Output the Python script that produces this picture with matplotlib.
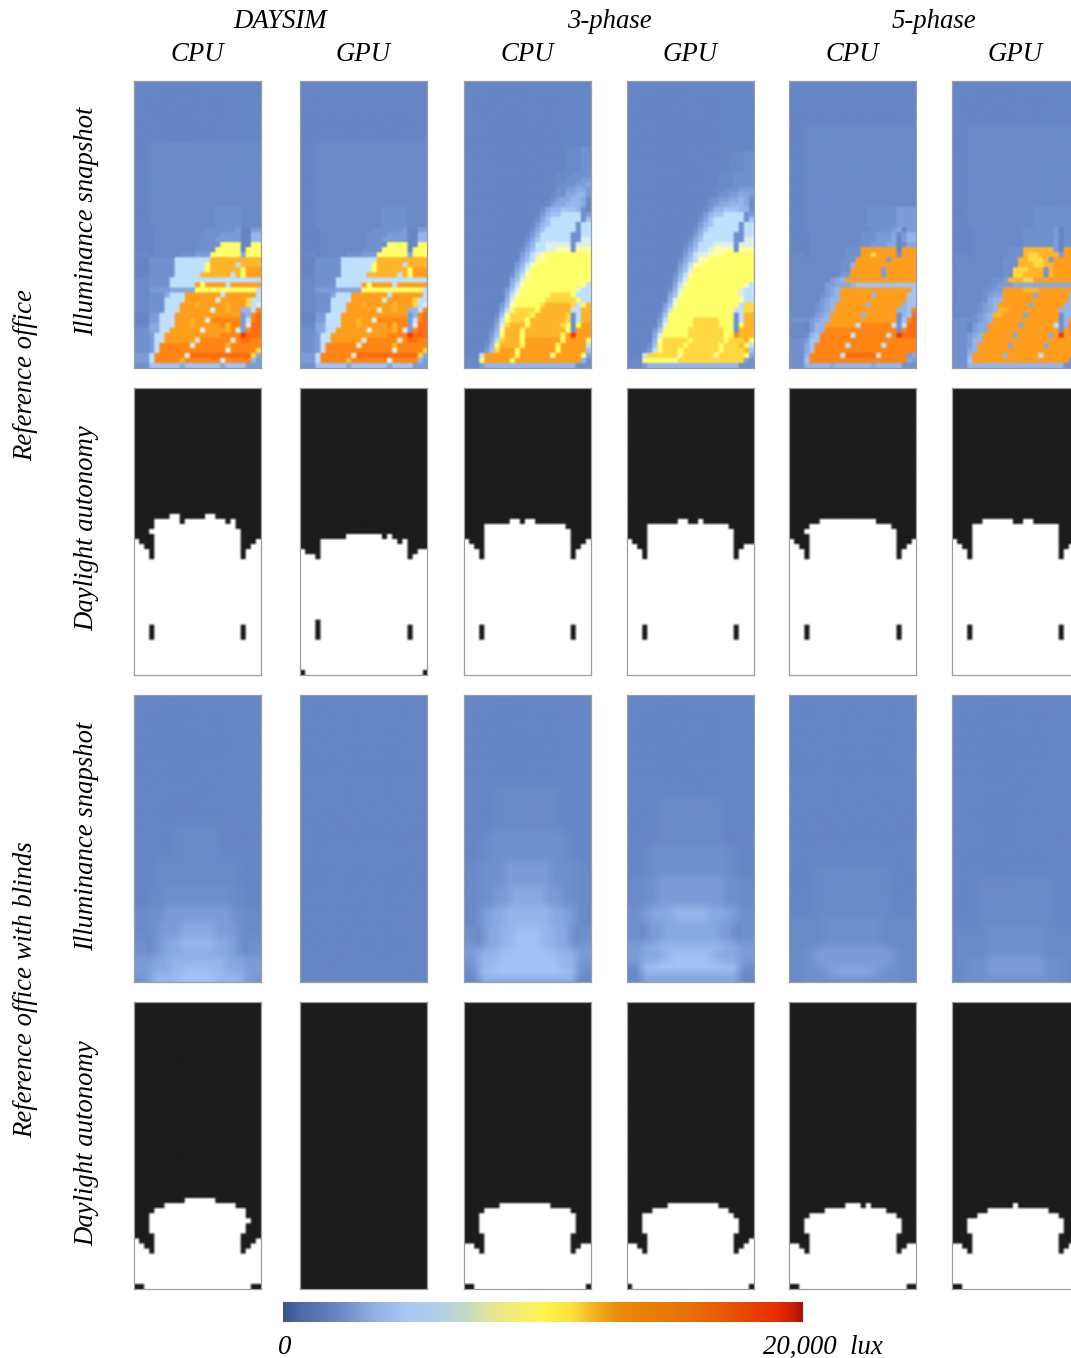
import re

import numpy as np
import matplotlib
matplotlib.use("Agg")
import matplotlib.pyplot as plt
from matplotlib.cm import ScalarMappable
from matplotlib.colors import LinearSegmentedColormap, ListedColormap, Normalize

W, H = 1071, 1358
ROWS, COLS = 57, 25

METHODS = ["DAYSIM", "3-phase", "5-phase"]
ENGINES = ["CPU", "GPU", "CPU", "GPU", "CPU", "GPU"]
GROUPS = ["Reference office", "Reference office with blinds"]
ROW_LABELS = ["Illuminance snapshot", "Daylight autonomy"]
BAR_TICKS = ["0", "20,000  lux"]

# colours of the snapshot levels a..q, dim blue up to red
LEVELS = "abcdefghijklmnopq"
LEVEL_COLORS = ["#6685c5", "#6a89c8", "#7090ce", "#7c9cd9", "#88a8e2", "#95b5ec",
                "#a3c2f5", "#c0e0ff", "#ddf0e8", "#ffffa0", "#ffff68", "#ffd840",
                "#ffb42a", "#ff9e1c", "#ff8614", "#ff6c10", "#ff3000"]
BAR_STOPS = [(0.0, "#3a5488"), (0.03, "#4a68a4"), (0.10, "#6584c0"), (0.17, "#8eaee0"),
             (0.24, "#a9c8f2"), (0.30, "#b2cfe8"), (0.35, "#c4d8c4"), (0.40, "#e4e69a"),
             (0.50, "#fff44e"), (0.55, "#fbe442"), (0.60, "#f0b020"), (0.65, "#e98a08"),
             (0.72, "#e87c00"), (0.80, "#e86c00"), (0.88, "#e84a00"), (0.95, "#e82c00"),
             (0.98, "#c82000"), (1.0, "#a81400")]

# snapshots: (how many rows, columns as count+level)
SNAP_DAYSIM = [
    (12, "25a"), (13, "3a 22b"), (4, "3a 13b 5c 4b"), (1, "4a 10b 6c 1d 2a 2d"),
    (1, "4a 9b 4c 4d 2a 2f"), (1, "4a 9b 3c 5d 2a 2f"), (1, "4a 9b 4c 4k 2a 2k"),
    (1, "4a 8b 4c 5k 1a 3k"), (1, "3b 1a 5b 3c 3d 6k 1e 3k"), (1, "3a 5c 7h 10m"),
    (1, "3a 5c 6h 1k 5m 1h 4m"), (1, "3a 5c 6h 1k 6m 1k 3n"),
    (1, "3a 5c 5h 6m 1h 1m 1k 3n"), (1, "3b 4c 18h"),
    (1, "3b 4c 5h 1n 1k 4n 1h 6n"), (1, "3b 4d 5e 12k 1h"),
    (1, "3b 3c 1e 3h 7n 1h 6n 1h"), (1, "3b 3c 4h 6n 1i 5n 1l 2h"),
    (1, "3b 3c 3h 3n 1m 5n 1m 3n 1l 1h 1i"), (1, "3b 3c 3h 6n 1i 2n 1m 2n 2f 1h 1o"),
    (1, "3a 2d 3h 13n 1d 1f 1o 1p"), (1, "3a 2d 3h 3n 1m 2n 1i 6o 1d 1h 1o 1p"),
    (1, "3b 2e 3h 3n 1m 5n 1o 1m 2o 1d 1i 2p"), (1, "3c 2e 2h 6n 1i 4n 1m 1o 1i 1d 1o 2p"),
    (1, "3c 1d 2h 11n 4o 1q 3p"), (1, "3c 1d 2h 6n 1i 6o 1i 1o 2p 2o"),
    (1, "3c 1d 1h 6o 1i 6o 1m 6o"), (1, "3c 1d 1h 13o 1i 5o 1l"),
    (1, "3d 1h 6o 1i 12p 1l 1e"), (1, "3d 1h 5o 1m 7o 1i 5o 1f 1d"),
    (1, "3c 6g 1e 7g 1e 4g 3d"),
]
SNAP_3PHASE_CPU = [
    (13, "25a"), (5, "20a 3b 2c"), (1, "18a 3b 4c"), (1, "18a 2b 3c 2d"),
    (1, "18a 1b 3c 2d 1e"), (1, "18a 2c 2d 2e 1d"), (1, "17a 1b 2c 2e 2f 1d"),
    (1, "17a 1c 1d 2e 2f 1e 1b"), (1, "16a 1b 1d 2e 3f 1e 1b"),
    (1, "15a 1c 1e 2f 3g 1f 1c 1b"), (1, "14a 1b 1d 1f 2g 4h 1c 1d"),
    (1, "14a 1c 1e 1g 6h 1c 1g"), (1, "13a 1b 1d 1f 1g 5h 1c 2h"),
    (1, "13a 1c 1e 1g 6h 1c 2h"), (1, "12a 1b 1d 1f 6h 2c 2h"),
    (1, "12a 1c 1e 1g 6h 2c 2i"), (1, "12a 1d 1f 2h 5i 1c 3i"),
    (1, "11a 1c 1e 1g 2h 2i 3j 1c 3j"), (1, "11a 1d 1f 1h 1i 1j 9k"),
    (1, "10a 1b 1e 1g 1h 2j 9k"), (1, "10a 1d 1f 1h 1j 11k"), (1, "10a 1e 1g 1i 12k"),
    (1, "9a 1c 1f 1h 1j 12k"), (1, "9a 1e 1g 1i 13k"), (1, "9a 1f 1h 1j 11k 1j 1h"),
    (1, "8a 1d 1g 1i 11k 1i 2h"), (1, "8a 1e 1h 1j 6k 4l 1k 3h"),
    (1, "8a 1f 1i 6k 1l 4l 1l 1k 2h"), (1, "7a 1d 1g 1j 5k 1l 5m 1l 1h 1k 1m"),
    (1, "7a 1e 1h 1k 4l 1k 6m 2h 2m"), (1, "6a 1c 1g 1j 3l 1l 1k 6m 1l 1c 1h 2m"),
    (1, "6a 1d 1h 1k 3l 1k 7m 1l 1c 1h 2m"), (1, "6a 1e 1i 1l 3m 1k 6m 1l 1k 1c 1k 2n"),
    (1, "5a 1c 1f 1j 3m 1k 8m 1k 1c 3n"), (1, "5a 1d 1g 1k 3m 1k 7m 1k 1n 1q 3n"),
    (1, "5a 1e 1h 1l 3m 1k 7n 1k 4n 1k"), (1, "4a 1c 1f 1k 4m 1k 6n 1k 5n 1h"),
    (1, "4a 1d 1g 1l 3n 1k 7n 1k 5n 1g"), (1, "3a 1h 6n 1k 6n 1j 5n 1k 1e"),
    (1, "3b 1k 5n 1k 13n 1f 1c"), (1, "3b 1d 18f 3c"),
]
SNAP_3PHASE_GPU = [
    (14, "25a"), (4, "20a 3b 2c"), (3, "18a 3b 4c"), (1, "17a 2b 3c 3d"),
    (1, "17a 1b 2c 2d 2e 1d"), (1, "16a 2c 2d 2e 1f 1e 1c"), (1, "16a 1c 1d 2e 3f 1e 1b"),
    (1, "15a 1b 1d 2f 3g 2f 1c"), (1, "14a 1b 1d 1f 2g 4h 1c 1d"),
    (1, "14a 1c 1e 1g 6h 1c 1g"), (1, "13a 1b 1d 1f 1g 5h 1c 2h"),
    (1, "13a 1c 1e 1g 6h 1c 2h"), (1, "12a 1b 1d 1f 6h 2c 2h"),
    (1, "12a 1c 1e 1g 6h 2c 2i"), (1, "11a 1b 1d 1f 3h 4i 1c 3i"),
    (1, "11a 1c 1e 1g 2h 1i 4j 1c 3j"), (1, "11a 1d 1f 1h 2i 3j 6k"),
    (1, "10a 1c 1e 1g 1h 2j 9k"), (1, "10a 1d 1f 1h 2j 10k"), (1, "10a 1e 1g 1i 12k"),
    (1, "9a 1c 1f 1h 1j 12k"), (1, "9a 1d 1g 1i 13k"), (1, "9a 1e 1h 1j 11k 1j 1h"),
    (1, "8a 1c 1f 1i 11k 1i 2h"), (1, "8a 1e 1g 1j 11k 1i 2h"),
    (1, "8a 1f 1i 12k 1j 2h"), (1, "7a 1d 1g 1j 12k 1h 2l"), (1, "7a 1e 1h 12k 2h 2l"),
    (1, "6a 1c 1g 13k 1c 1h 2m"), (1, "6a 1d 1h 5k 5l 3k 1c 1h 2m"),
    (1, "6a 1e 1i 5k 5l 3k 1c 1k 2m"), (1, "5a 1d 1g 5k 7l 2k 1c 3m"),
    (1, "5a 1e 1i 5k 7l 2k 1o 3m"), (1, "5a 1f 1j 5l 1k 6l 1k 3l 1m 1k"),
    (1, "4a 1c 1g 1k 4l 1k 6l 1k 3l 1m 1k 1h"), (1, "4a 1d 1h 1k 3l 1k 7l 1k 4l 1m 1g"),
    (1, "3a 1h 6l 1j 6l 1j 5l 1k 1e"), (1, "3b 1k 5k 1j 13l 1d 1c"), (1, "3b 1d 18f 3c"),
]
SNAP_5PHASE_CPU = [
    (9, "25a"), (16, "3a 22b"), (4, "3a 12b 6c 4d"), (1, "3a 13b 4c 1d 1e 1a 2d"),
    (1, "4a 10b 3c 3d 1e 1b 1d 2f"), (1, "4a 10b 3c 3d 1e 1a 1d 2f"),
    (1, "4a 9b 3c 3d 2e 1a 1c 2e"), (1, "4a 7b 3c 7n 1a 3n"),
    (1, "3b 1a 7b 3c 2n 1l 4n 1c 3n"), (1, "10b 3c 6n 1d 5n"), (1, "10b 2c 1f 12n"),
    (1, "10b 2c 6n 1d 6n"), (1, "10b 2d 6n 1d 6n"), (1, "8b 1d 1e 1f 14n"),
    (1, "7b 2d 3e 1f 12g"), (1, "7b 1d 1e 1f 14n 1g"), (1, "6b 1c 1d 1e 1f 6n 1f 6n 2g"),
    (1, "6b 1d 1e 2f 13n 2g"), (1, "5b 1c 1d 1e 1f 6n 1f 6n 1f 2g"),
    (1, "5b 1c 1d 1e 1f 12n 2f 1g 1o"), (1, "5b 1d 1e 1f 6n 1f 6n 1c 1f 1g 1p"),
    (1, "4c 1d 1e 2f 13n 1c 1g 1o 1p"), (1, "3b 1a 1d 2f 6n 1h 6o 1h 1c 1h 2p"),
    (1, "3b 1a 1d 2f 14o 1c 1o 2p"), (1, "3b 1c 1f 1g 6o 1h 6o 1h 1o 1q 3p"),
    (1, "3c 1d 2g 19o"), (1, "3c 1e 1g 6o 1h 6o 1h 6o"), (1, "3c 1e 1g 20o"),
    (1, "3c 1f 6o 1h 6p 1h 5o 1d 1e"), (1, "3c 1g 19o 1e 1d"),
    (1, "3c 5f 1e 7f 1e 5f 3c"),
]
SNAP_5PHASE_GPU = [
    (9, "25a"), (16, "3a 22b"), (4, "3a 13b 9c"), (4, "4a 10b 6c 1d 1a 3c"),
    (1, "4a 7b 3c 6m 1d 1a 3n"), (1, "3b 1a 7b 3c 1m 2l 4m 1d 3n"),
    (1, "10b 3c 2m 3l 1m 1d 5n"), (1, "10b 3c 3m 2l 2m 5n"), (1, "10b 2c 3l 3m 1c 1m 5n"),
    (1, "10b 2c 2l 4m 1c 1m 5n"), (1, "8b 2c 1d 3m 2l 9n"), (1, "7b 2c 3d 13e"),
    (1, "6b 2c 2d 4n 3m 8n"), (1, "6b 1c 1d 2e 6n 1e 6n 2f"), (1, "6b 1c 1e 2f 13n 2f"),
    (1, "5b 1c 1d 1e 1f 6n 1e 6n 3f"), (1, "5b 1c 1d 1e 1f 2m 10n 3f 1o"),
    (1, "4b 1c 1d 1e 1f 2m 4n 1e 6n 1c 2f 1p"), (1, "5c 1d 1e 1f 13n 1c 1f 1n 1o"),
    (1, "3c 1a 1d 2e 6n 1e 6n 1h 1c 1f 2o"), (1, "3c 1a 1d 2e 14n 1c 1n 2o"),
    (1, "3c 1d 1e 1f 6n 1e 6n 1e 1n 1q 3n"), (1, "3c 1d 2f 19n"),
    (1, "3c 1d 1f 6n 1e 6n 1e 6n"), (1, "3c 1e 1f 20n"), (1, "3c 1f 6n 1f 6n 1h 7n"),
    (1, "3c 1g 19n 2c"), (1, "3c 19f 3c"),
]
SNAP_BLIND_DAYSIM_CPU = [
    (26, "25a"), (6, "8a 9b 8a"), (6, "4a 17b 4a"), (4, "3a 3b 13c 3b 3a"),
    (3, "3b 3c 13d 3c 3b"), (3, "3b 2c 4d 7e 4d 2c 3b"),
    (3, "3c 1a 2d 3e 7f 3e 2d 1a 3c"), (1, "3c 1a 2d 13e 2d 1a 3c"), (1, "3d 4e 11f 4e 3d"),
    (1, "3d 1d 3e 11f 3e 1d 3d"), (1, "3d 4e 3f 5g 3f 4e 3d"), (1, "3d 1e 4f 9g 4f 1e 3d"),
    (1, "2c 1d 1e 5f 7g 5f 1e 2d 1c"), (1, "3c 1f 17g 1f 3c"), (1, "3b 19e 3b"),
]
SNAP_BLIND_DAYSIM_GPU = [(ROWS, "25a")]
SNAP_BLIND_3PHASE_CPU = [
    (18, "25a"), (9, "6a 13b 6a"), (6, "3a 2b 15c 2b 3a"), (5, "3b 2c 3c 9d 3c 2c 3b"),
    (4, "3b 3c 3d 7e 3d 3c 3b"), (4, "3b 2d 3e 9f 3e 2d 3b"), (4, "3c 1a 3e 3f 5g 3f 3e 1a 3c"),
    (1, "3d 3e 3f 7g 3f 3e 3d"), (2, "3d 4f 11g 4f 3d"), (2, "2c 1d 3f 13g 3f 1d 2c"),
    (1, "2b 1c 19g 1c 2b"), (1, "3b 19e 3b"),
]
SNAP_BLIND_3PHASE_GPU = [
    (20, "25a"), (10, "6a 13b 6a"), (6, "3a 2b 15c 2b 3a"), (6, "3b 3c 13d 3c 3b"),
    (3, "3c 2d 4e 7f 4e 2d 3c"), (4, "3c 1a 3d 11e 3d 1a 3c"), (2, "3d 3e 13f 3e 3d"),
    (2, "3d 4e 2f 7g 2f 4e 3d"), (1, "2c 1d 3f 13g 3f 1d 2c"), (1, "2b 1c 19g 1c 2b"),
    (1, "3b 19e 3b"),
]
SNAP_BLIND_5PHASE_CPU = [
    (34, "25a"), (10, "5a 15b 5a"), (6, "3b 4b 11c 4b 3b"), (4, "3b 2c 15d 2c 3b"),
    (2, "3b 4c 2d 7e 2d 4c 3b"), (1, "3b 19c 3b"),
]
SNAP_BLIND_5PHASE_GPU = [
    (36, "25a"), (10, "5a 15b 5a"), (6, "3b 4b 11c 4b 3b"), (4, "3b 4c 11d 4c 3b"),
    (1, "3b 19c 3b"),
]

# daylight autonomy: first lit row of each column, then dark runs (col, first, last)
DA_REF_DAYSIM_CPU = [30, 31, 32, 28, 26, 26, 26, 25, 25, 27, 26, 26, 26, 26, 25, 25, 26, 26, 27, 26, 28, 34, 32, 31, 30]
DA_REF_DAYSIM_GPU = [32, 33, 33, 34, 30, 30, 30, 30, 30, 29, 29, 29, 29, 29, 29, 29, 30, 29, 30, 31, 30, 34, 33, 32, 32]
DA_REF_3PHASE_CPU = [30, 31, 32, 34, 27, 27, 27, 27, 27, 26, 26, 27, 26, 26, 27, 27, 27, 27, 27, 27, 28, 34, 32, 31, 30]
DA_REF_3PHASE_GPU = [30, 31, 32, 34, 27, 27, 27, 27, 27, 27, 26, 26, 27, 27, 26, 27, 27, 27, 27, 27, 28, 34, 32, 31, 31]
DA_REF_5PHASE_CPU = [30, 31, 32, 28, 27, 27, 26, 26, 26, 26, 26, 26, 26, 26, 26, 26, 26, 27, 27, 27, 28, 34, 32, 31, 30]
DA_REF_5PHASE_GPU = [30, 31, 32, 34, 27, 27, 26, 26, 26, 26, 26, 26, 27, 27, 26, 26, 27, 27, 27, 27, 27, 34, 32, 31, 30]
DARK_REF = [(3, 47, 49), (21, 47, 49)]
DARK_REF_DAYSIM_CPU = DARK_REF + [(3, 29, 33)]
DARK_REF_DAYSIM_GPU = [(3, 46, 49), (21, 47, 49), (0, 56, 56), (24, 56, 56)]
DARK_REF_5PHASE_CPU = DARK_REF + [(3, 29, 33)]

DA_BLIND_DAYSIM_CPU = [47, 48, 49, 42, 41, 41, 40, 40, 40, 40, 39, 39, 39, 39, 39, 39, 40, 40, 40, 40, 41, 41, 43, 48, 47]
DA_BLIND_DAYSIM_GPU = [57] * 25
DA_BLIND_3PHASE_CPU = [48, 48, 49, 42, 41, 41, 41, 40, 40, 40, 40, 40, 40, 40, 40, 40, 40, 41, 41, 41, 41, 42, 49, 48, 48]
DA_BLIND_3PHASE_GPU = [48, 48, 49, 42, 42, 41, 41, 41, 40, 40, 40, 40, 40, 40, 40, 40, 40, 40, 41, 41, 42, 43, 49, 48, 47]
DA_BLIND_5PHASE_CPU = [48, 48, 49, 43, 42, 42, 42, 41, 41, 41, 41, 40, 40, 40, 41, 40, 41, 41, 41, 42, 42, 43, 49, 48, 48]
DA_BLIND_5PHASE_GPU = [48, 48, 49, 43, 43, 42, 42, 41, 41, 41, 41, 41, 40, 41, 41, 41, 41, 41, 41, 42, 42, 43, 49, 48, 48]
DARK_BLIND = [(3, 46, 49), (21, 46, 49)]
DARK_BLIND_DAYSIM_CPU = DARK_BLIND + [(22, 44, 48), (0, 56, 56), (1, 56, 56), (23, 56, 56), (24, 56, 56)]
DARK_BLIND_3PHASE_CPU = DARK_BLIND + [(0, 56, 56), (1, 56, 56), (24, 56, 56)]
DARK_BLIND_3PHASE_GPU = DARK_BLIND + [(0, 56, 56), (24, 56, 56)]
DARK_BLIND_5PHASE_CPU = DARK_BLIND + [(0, 56, 56), (1, 56, 56), (23, 56, 56), (24, 56, 56)]
DARK_BLIND_5PHASE_GPU = DARK_BLIND + [(0, 56, 56), (1, 56, 56), (24, 56, 56)]

PANEL_X = [134, 300, 464, 627, 789, 952]
PANEL_Y = [81, 388, 695, 1002]
PANEL_W, PANEL_H = 127, 287

plt.rcParams["font.family"] = ["Liberation Serif", "DejaVu Serif"]
FS = 19.3

snap_cmap = ListedColormap(LEVEL_COLORS)
da_cmap = ListedColormap(["#1c1c1c", "#ffffff"])
bar_cmap = LinearSegmentedColormap.from_list("lux", BAR_STOPS, N=512)


def snap_grid(rows):
    """Expand (repeat, "count+level ...") rows into a 57x25 array of level indexes."""
    out = []
    for rep, spec in rows:
        row = []
        for n, ch in re.findall(r"(\d+)([a-q])", spec):
            row += [LEVELS.index(ch)] * int(n)
        row = (row + [row[-1]] * COLS)[:COLS]
        out += [row] * rep
    out = (out + [out[-1]] * ROWS)[:ROWS]
    return np.array(out)


def da_grid(tops, dark):
    grid = np.zeros((ROWS, COLS))
    for c, t in enumerate(tops):
        grid[t:, c] = 1
    for c, a, b in dark:
        grid[a:b + 1, c] = 0
    return grid


def soft(rgb, t):
    """Blur the cell edges a little: the source panels were upscaled screenshots."""
    big = np.repeat(np.repeat(rgb, 5, axis=0), 5, axis=1)
    pad = np.pad(big, ((t, t), (t, t), (0, 0)), mode="edge")
    ny, nx = big.shape[:2]
    out = sum(pad[t + i:t + i + ny, :] for i in range(-t, t + 1)) / (2 * t + 1)
    pad = out
    out = sum(pad[:, t + i:t + i + nx] for i in range(-t, t + 1)) / (2 * t + 1)
    return out


def panel_ax(fig, px, py):
    ax = fig.add_axes([px / W, 1 - (py + PANEL_H) / H, PANEL_W / W, PANEL_H / H])
    ax.set_xticks([]); ax.set_yticks([])
    for s in ax.spines.values():
        s.set_color("#9b9ea3"); s.set_linewidth(0.9)
    return ax


fig = plt.figure(figsize=(W / 100, H / 100), dpi=100, facecolor="white")

snap_rows = [
    [SNAP_DAYSIM, SNAP_DAYSIM, SNAP_3PHASE_CPU, SNAP_3PHASE_GPU, SNAP_5PHASE_CPU, SNAP_5PHASE_GPU],
    [SNAP_BLIND_DAYSIM_CPU, SNAP_BLIND_DAYSIM_GPU, SNAP_BLIND_3PHASE_CPU,
     SNAP_BLIND_3PHASE_GPU, SNAP_BLIND_5PHASE_CPU, SNAP_BLIND_5PHASE_GPU],
]
da_rows = [
    [(DA_REF_DAYSIM_CPU, DARK_REF_DAYSIM_CPU), (DA_REF_DAYSIM_GPU, DARK_REF_DAYSIM_GPU),
     (DA_REF_3PHASE_CPU, DARK_REF), (DA_REF_3PHASE_GPU, DARK_REF),
     (DA_REF_5PHASE_CPU, DARK_REF_5PHASE_CPU), (DA_REF_5PHASE_GPU, DARK_REF)],
    [(DA_BLIND_DAYSIM_CPU, DARK_BLIND_DAYSIM_CPU), (DA_BLIND_DAYSIM_GPU, []),
     (DA_BLIND_3PHASE_CPU, DARK_BLIND_3PHASE_CPU), (DA_BLIND_3PHASE_GPU, DARK_BLIND_3PHASE_GPU),
     (DA_BLIND_5PHASE_CPU, DARK_BLIND_5PHASE_CPU), (DA_BLIND_5PHASE_GPU, DARK_BLIND_5PHASE_GPU)],
]
snap_norm = Normalize(-0.5, len(LEVELS) - 0.5)

for g in range(2):
    blur = 1 if g == 0 else 5
    for j, px in enumerate(PANEL_X):
        rgb = snap_cmap(snap_norm(snap_grid(snap_rows[g][j])))[..., :3]
        ax = panel_ax(fig, px, PANEL_Y[2 * g])
        ax.imshow(soft(rgb, blur), aspect="auto", interpolation="bilinear")
        rgb = da_cmap(da_grid(*da_rows[g][j]))[..., :3]
        ax = panel_ax(fig, px, PANEL_Y[2 * g + 1])
        ax.imshow(soft(rgb, 1), aspect="auto", interpolation="bilinear")


def label(x, y, s, rotation=0):
    fig.text(x / W, 1 - y / H, s, fontsize=FS, style="italic", ha="center", va="center",
             rotation=rotation)


for x, s in zip([280, 609, 934], METHODS):
    label(x, 22, s)
for x, s in zip([197, 363, 527, 690, 852, 1015], ENGINES):
    label(x, 54.5, s)
label(26, 375, GROUPS[0], rotation=90)
label(26, 990, GROUPS[1], rotation=90)
for y, s in zip([221, 528, 836, 1143], ROW_LABELS * 2):
    label(87, y, s, rotation=90)

cax = fig.add_axes([283 / W, 1 - 1322 / H, 520 / W, 20 / H])
cb = fig.colorbar(ScalarMappable(norm=Normalize(0, 20000), cmap=bar_cmap), cax=cax,
                  orientation="horizontal")
cb.set_ticks([]); cb.outline.set_visible(False)
label(285, 1347, BAR_TICKS[0])
label(823, 1347, BAR_TICKS[1])

fig.savefig("out.png", dpi=100)
